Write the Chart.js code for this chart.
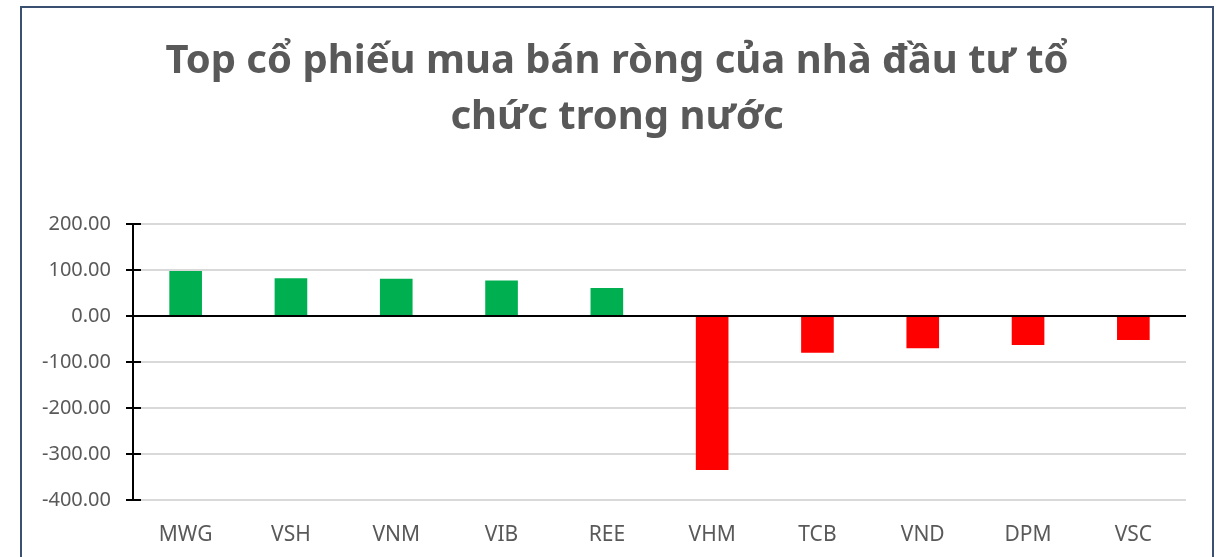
<!DOCTYPE html>
<html>
<head>
<meta charset="utf-8">
<script src="https://cdn.jsdelivr.net/npm/chart.js@4/dist/chart.umd.min.js"></script>
<style>
  html, body { margin: 0; padding: 0; background: #fff; overflow: hidden; }
  #wrap { position: relative; width: 1221px; height: 557px; }
  #frame { position: absolute; left: 20px; top: 6px; width: 1190px; height: 600px;
           border: 2px solid #3b5070; pointer-events: none; }
  canvas { position: absolute; left: 0; top: 0; }
</style>
</head>
<body>
<div id="wrap">
  <canvas id="chart" width="1221" height="557"></canvas>
  <div id="frame"></div>
</div>
<script>
const tickers = ['MWG', 'VSH', 'VNM', 'VIB', 'REE', 'VHM', 'TCB', 'VND', 'DPM', 'VSC'];
const netValues = [98, 82, 81, 77, 61, -335, -80, -70, -63, -52];
const titleLines = ['Top cổ phiếu mua bán ròng của nhà đầu tư tổ', 'chức trong nước'];
const yMin = -400;
const yMax = 200;
const yStep = 100;

const textColor = '#595959';
const fontFamily = "'Noto Sans', 'Open Sans', sans-serif";

// title is centred on the frame, not on the canvas layout box
const frameTitle = {
    id: 'frameTitle',
    afterDraw(chart) {
        const ctx = chart.ctx;
        ctx.save();
        ctx.fillStyle = textColor;
        ctx.font = 'bold 40px ' + fontFamily;
        ctx.textAlign = 'center';
        ctx.textBaseline = 'middle';
        titleLines.forEach((line, i) => ctx.fillText(line, 617, 62 + i * 56));
        ctx.restore();
    }
};

// black tick marks crossing the value axis
const crossTicks = {
    id: 'crossTicks',
    afterDraw(chart) {
        const y = chart.scales.y;
        const ctx = chart.ctx;
        const x0 = y.right;
        ctx.save();
        ctx.strokeStyle = '#000';
        ctx.lineWidth = 2;
        y.ticks.forEach(t => {
            const py = Math.round(y.getPixelForValue(t.value));
            ctx.beginPath();
            ctx.moveTo(x0 - 7, py);
            ctx.lineTo(x0 + 8, py);
            ctx.stroke();
        });
        ctx.restore();
    }
};

new Chart(document.getElementById('chart').getContext('2d'), {
    type: 'bar',
    data: {
        labels: tickers,
        datasets: [{
            data: netValues,
            backgroundColor: netValues.map(v => v >= 0 ? '#00b050' : '#ff0000'),
            barPercentage: 0.31,
            categoryPercentage: 1
        }]
    },
    options: {
        responsive: false,
        animation: false,
        layout: { padding: { left: 0, right: 35, top: 224, bottom: 0 } },
        plugins: {
            legend: { display: false },
            tooltip: { enabled: false },
            title: { display: false }
        },
        scales: {
            x: {
                grid: { display: false },
                border: { display: false },
                ticks: { color: textColor, font: { family: fontFamily, size: 21 }, padding: 14 },
                afterFit(scale) { scale.height = 57; }
            },
            y: {
                min: yMin,
                max: yMax,
                ticks: {
                    stepSize: yStep,
                    color: textColor,
                    font: { family: fontFamily, size: 20 },
                    padding: 22,
                    callback: v => v.toFixed(2)
                },
                grid: {
                    drawTicks: false,
                    color: c => c.tick && c.tick.value === 0 ? '#000' : '#d9d9d9',
                    lineWidth: 2
                },
                border: { display: true, color: '#000', width: 2 },
                afterFit(scale) { scale.width = 133; }
            }
        }
    },
    plugins: [crossTicks, frameTitle]
});
</script>
</body>
</html>
